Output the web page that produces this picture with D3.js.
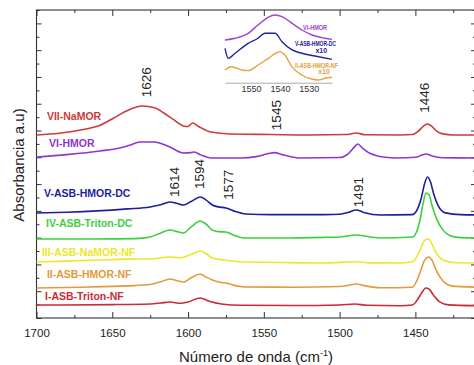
<!DOCTYPE html>
<html>
<head>
<meta charset="utf-8">
<script src="https://cdn.jsdelivr.net/npm/d3@7"></script>
<style>
  body { margin: 0; background: #fff; }
  svg text { font-family: Arial, 'Liberation Sans', sans-serif; }
</style>
</head>
<body>
<div id="container"></div>
<script>
const w = 474,
  h = 365;

// ---- data (wavenumber cm-1, absorbance a.u.) ----
const seriesNames = [
  'VII-NaMOR',
  'VI-HMOR',
  'V-ASB-HMOR-DC',
  'IV-ASB-Triton-DC',
  'III-ASB-NaMOR-NF',
  'II-ASB-HMOR-NF',
  'I-ASB-Triton-NF',
];

const specVII = [
  [1700, 13.67], [1685, 13.8], [1671, 14.04], [1658, 14.4], [1649, 14.94],
  [1640, 15.5], [1630, 15.83], [1622, 15.7], [1616, 15.31], [1610, 14.85],
  [1603, 14.34], [1600, 14.3], [1597, 14.56], [1593, 14.3], [1585, 13.89],
  [1572, 13.74], [1545, 13.7], [1520, 13.67], [1495, 13.7], [1489, 13.82],
  [1483, 13.68], [1460, 13.67], [1452, 13.7], [1448, 13.95], [1445, 14.3],
  [1442, 14.49], [1439, 14.3], [1436, 13.95], [1432, 13.75], [1425, 13.67],
  [1410, 13.67],
];

const specVI = [
  [1700, 12.02], [1680, 12.2], [1658, 12.47], [1645, 12.7], [1638, 12.92],
  [1632, 13.14], [1622, 13.14], [1616, 12.95], [1612, 12.77], [1603, 12.32],
  [1598, 12.35], [1596, 12.4], [1592, 12.2], [1585, 11.95], [1565, 11.95],
  [1555, 12.05], [1546, 12.3], [1543, 12.35], [1538, 12.2], [1530, 12.0],
  [1526, 11.95], [1500, 11.98], [1494, 12.3], [1490, 12.8], [1488, 12.99],
  [1485, 12.7], [1480, 12.3], [1477, 12.17], [1470, 12.0], [1462, 11.95],
  [1450, 12.0], [1446, 12.15], [1443, 12.25], [1439, 12.1], [1432, 11.97],
  [1410, 11.95],
];

const specV = [
  [1700, 7.84], [1680, 7.9], [1660, 8.0], [1640, 8.15], [1625, 8.29],
  [1618, 8.45], [1612, 8.66], [1607, 8.55], [1603, 8.44], [1598, 8.7],
  [1592, 9.04], [1588, 8.8], [1584, 8.44], [1580, 8.3], [1575, 8.22],
  [1570, 8.0], [1562, 7.77], [1545, 7.72], [1510, 7.72], [1500, 7.75],
  [1494, 7.9], [1489, 8.07], [1484, 7.88], [1473, 7.69], [1452, 7.72],
  [1448, 8.3], [1446, 9.0], [1444, 10.0], [1442, 10.53], [1440, 10.15],
  [1438, 9.3], [1435, 8.4], [1430, 7.85], [1420, 7.72], [1410, 7.7],
];

const specIV = [
  [1700, 5.9], [1660, 5.9], [1635, 5.93], [1625, 6.05], [1618, 6.35],
  [1612, 6.57], [1607, 6.45], [1603, 6.35], [1598, 6.8], [1592, 7.24],
  [1588, 7.0], [1584, 6.57], [1580, 6.45], [1575, 6.42], [1570, 6.2],
  [1563, 5.97], [1540, 5.97], [1510, 6.02], [1500, 6.05], [1489, 6.2],
  [1480, 6.05], [1473, 5.97], [1452, 6.05], [1449, 6.5], [1447, 7.3],
  [1445, 8.5], [1443, 9.34], [1441, 9.2], [1439, 8.4], [1436, 7.4],
  [1432, 6.6], [1427, 6.15], [1420, 6.0], [1410, 5.97],
];

const specIII = [
  [1700, 4.18], [1680, 4.25], [1660, 4.33], [1640, 4.4], [1625, 4.41],
  [1612, 4.56], [1605, 4.5], [1598, 4.75], [1592, 5.0], [1588, 4.8],
  [1584, 4.48], [1576, 4.33], [1565, 4.2], [1540, 4.15], [1510, 4.11],
  [1489, 4.2], [1480, 4.12], [1460, 4.11], [1452, 4.2], [1449, 4.6],
  [1446, 5.3], [1444, 5.8], [1441, 5.9], [1439, 5.5], [1436, 4.8],
  [1432, 4.35], [1425, 4.15], [1410, 4.11],
];

const specII = [
  [1700, 2.24], [1670, 2.3], [1640, 2.4], [1625, 2.5], [1618, 2.7],
  [1612, 2.91], [1607, 2.78], [1603, 2.69], [1598, 3.0], [1592, 3.29],
  [1588, 3.05], [1584, 2.84], [1578, 2.65], [1575, 2.61], [1568, 2.4],
  [1562, 2.32], [1530, 2.3], [1500, 2.35], [1494, 2.45], [1489, 2.54],
  [1483, 2.4], [1473, 2.26], [1452, 2.3], [1449, 2.8], [1446, 3.7],
  [1444, 4.3], [1441, 4.56], [1439, 4.3], [1436, 3.5], [1432, 2.8],
  [1426, 2.4], [1410, 2.3],
];

const specI = [
  [1700, 0.97], [1650, 1.0], [1625, 1.05], [1618, 1.12], [1612, 1.19],
  [1605, 1.1], [1600, 1.2], [1592, 1.49], [1586, 1.25], [1578, 1.05],
  [1565, 0.95], [1530, 0.93], [1500, 0.97], [1490, 1.05], [1482, 0.95],
  [1460, 0.92], [1452, 0.97], [1449, 1.3], [1446, 1.85], [1443, 2.24],
  [1441, 2.15], [1438, 1.7], [1434, 1.2], [1428, 0.98], [1410, 0.92],
];

const spectra = [specVII, specVI, specV, specIV, specIII, specII, specI];

const xTicksMajor = [1700, 1650, 1600, 1550, 1500, 1450];
const xTicksMinor = [1675, 1625, 1575, 1525, 1475, 1425];

const peakLabels = ['1626', '1545', '1446', '1614', '1594', '1577', '1491'];

// inset (x10 zoom of the 1545 band)
const insetNames = ['VI-HMOR', 'V-ASB-HMOR-DC', 'II-ASB-HMOR-NF'];
const insetVI = [
  [1559, 4.67], [1555.5, 4.86], [1551, 5.41], [1547.6, 6.33], [1544.1, 7.19],
  [1541.7, 7.44], [1539.3, 7.26], [1535.8, 6.52], [1532.4, 5.78],
  [1528.9, 5.22], [1524.4, 4.86], [1522, 4.74],
];
const insetV = [
  [1559, 3.74], [1557.9, 2.63], [1555.5, 3.19], [1551, 4.3], [1547.6, 4.86],
  [1545.2, 5.41], [1541.7, 5.41], [1539.3, 4.48], [1535.8, 3.56],
  [1532.4, 3.19], [1527.9, 2.89], [1522, 2.52],
];
const insetII = [
  [1559, 1.33], [1556.7, 1.7], [1553.2, 1.33], [1551, 1.26], [1547.5, 1.89],
  [1544, 2.63], [1541.1, 3.26], [1540, 3.37], [1538.3, 3.0], [1535.9, 1.7],
  [1532.5, 0.78], [1529, 0.33], [1526.7, 0.22], [1524.4, 0.41], [1522, 0.52],
];
const insetSpectra = [insetVI, insetV, insetII];
const insetTicks = [1550, 1540, 1530];

// ---- styles / layout ----
const colors = ['#cf3a3a', '#8e36cf', '#1e1e9e', '#3ecf3e', '#eee62a', '#e39a3c', '#cc2b35'];
const insetColors = ['#9b45d6', '#23239c', '#e8a040'];
// label anchors: [wavenumber, absorbance level]
const labelPos = [
  [1693.1, 15.09], [1691.7, 13.07], [1695, 9.34], [1693.7, 7.09],
  [1696.4, 4.93], [1693.1, 3.29], [1694.4, 1.64],
];
const peakPos = [
  [1627.5, 17.6], [1541.5, 15.15], [1444, 16.45], [1609, 10.15],
  [1592.5, 10.75], [1573.3, 9.95], [1488, 9.4],
];

const svg = d3
  .select('#container')
  .append('svg')
  .attr('width', w)
  .attr('height', h);

const x = d3.scaleLinear().domain([1700, 1410]).range([36.5, 476]);
const y = d3.scaleLinear().domain([0, 23]).range([318, 10]);

const line = d3
  .line()
  .x((d) => x(d[0]))
  .y((d) => y(d[1]))
  .curve(d3.curveMonotoneX);

// axes (ticks inward)
const axisColor = '#333';
function styleAxis(g) {
  g.select('.domain').remove();
  g.selectAll('line').attr('stroke', axisColor);
  g.selectAll('text').attr('fill', '#222').style('font-size', '11.5px');
}

svg
  .append('g')
  .attr('transform', 'translate(0,318)')
  .call(d3.axisBottom(x).tickValues(xTicksMajor).tickSize(-6).tickPadding(11).tickFormat(d3.format('d')))
  .call(styleAxis);
svg
  .append('g')
  .attr('transform', 'translate(0,318)')
  .call(d3.axisBottom(x).tickValues(xTicksMinor).tickSize(-3).tickFormat(''))
  .call(styleAxis);
svg
  .append('g')
  .attr('transform', 'translate(0,10)')
  .call(d3.axisTop(x).tickValues(xTicksMajor).tickSize(-6).tickFormat(''))
  .call(styleAxis);
svg
  .append('g')
  .attr('transform', 'translate(0,10)')
  .call(d3.axisTop(x).tickValues(xTicksMinor).tickSize(-3).tickFormat(''))
  .call(styleAxis);

const yMajor = d3.range(0, 24, 2);
const yMinor = d3.range(1, 24, 2);
[
  [d3.axisLeft, 36.5],
  [d3.axisRight, 476],
].forEach(([ax, tx]) => {
  svg
    .append('g')
    .attr('transform', 'translate(' + tx + ',0)')
    .call(ax(y).tickValues(yMajor).tickSize(-5).tickFormat(''))
    .call(styleAxis);
  svg
    .append('g')
    .attr('transform', 'translate(' + tx + ',0)')
    .call(ax(y).tickValues(yMinor).tickSize(-3).tickFormat(''))
    .call(styleAxis);
});

svg
  .append('rect')
  .attr('x', x(1700))
  .attr('y', y(23))
  .attr('width', x(1410) - x(1700))
  .attr('height', y(0) - y(23))
  .attr('fill', 'none')
  .attr('stroke', axisColor)
  .attr('stroke-width', 1.1);

// spectra
svg
  .selectAll('path.spec')
  .data(spectra)
  .enter()
  .append('path')
  .attr('class', 'spec')
  .attr('d', line)
  .attr('fill', 'none')
  .attr('stroke', (d, i) => colors[i])
  .attr('stroke-width', 1.6);

// series labels
svg
  .selectAll('text.series')
  .data(seriesNames)
  .enter()
  .append('text')
  .attr('class', 'series')
  .attr('x', (d, i) => x(labelPos[i][0]))
  .attr('y', (d, i) => y(labelPos[i][1]))
  .attr('dy', '0.35em')
  .attr('fill', (d, i) => colors[i])
  .style('font-size', '10.5px')
  .style('font-weight', 'bold')
  .text((d) => d);

// peak labels
svg
  .selectAll('text.peak')
  .data(peakLabels)
  .enter()
  .append('text')
  .attr('class', 'peak')
  .attr('transform', (d, i) => 'translate(' + x(peakPos[i][0]) + ',' + y(peakPos[i][1]) + ') rotate(-90)')
  .attr('text-anchor', 'middle')
  .attr('dy', '0.35em')
  .attr('fill', '#222')
  .style('font-size', '13.5px')
  .text((d) => d);

// axis titles
svg
  .append('text')
  .attr('transform', 'translate(19,165) rotate(-90)')
  .attr('text-anchor', 'middle')
  .attr('dy', '0.35em')
  .attr('fill', '#222')
  .style('font-size', '15px')
  .text('Absorbancia a.u)');

const xt = svg
  .append('text')
  .attr('x', 256)
  .attr('y', 362)
  .attr('text-anchor', 'middle')
  .attr('fill', '#222')
  .style('font-size', '15px');
xt.append('tspan').text('Número de onda (cm');
xt.append('tspan').attr('dy', -6).style('font-size', '9px').text('-1');
xt.append('tspan').attr('dy', 6).text(')');

// ---- inset ----
const ix = d3.scaleLinear().domain([1559, 1522]).range([225, 332]);
const iy = d3.scaleLinear().domain([0, 8]).range([82, 10]);
const iline = d3
  .line()
  .x((d) => ix(d[0]))
  .y((d) => iy(d[1]))
  .curve(d3.curveMonotoneX);

const inset = svg.append('g').attr('id', 'inset');
inset
  .append('g')
  .attr('transform', 'translate(0,82.7)')
  .call(d3.axisBottom(ix).tickValues(insetTicks).tickSize(0).tickPadding(3).tickFormat(d3.format('d')))
  .call((g) => {
    g.select('.domain').attr('stroke', '#aaa');
    g.selectAll('text').attr('fill', '#333').style('font-size', '9px');
  });

inset
  .selectAll('path.ispec')
  .data(insetSpectra)
  .enter()
  .append('path')
  .attr('class', 'ispec')
  .attr('d', iline)
  .attr('fill', 'none')
  .attr('stroke', (d, i) => insetColors[i])
  .attr('stroke-width', 1.4);

const insetLabelPos = [
  [1532.0, 6.0, 24],
  [1534.8, 4.22, 41],
  [1534.8, 1.78, 43],
];
inset
  .selectAll('text.ilabel')
  .data(insetNames)
  .enter()
  .append('text')
  .attr('class', 'ilabel')
  .attr('x', (d, i) => ix(insetLabelPos[i][0]))
  .attr('y', (d, i) => iy(insetLabelPos[i][1]))
  .attr('dy', '0.35em')
  .attr('textLength', (d, i) => insetLabelPos[i][2])
  .attr('lengthAdjust', 'spacingAndGlyphs')
  .attr('fill', (d, i) => insetColors[i])
  .style('font-size', '7px')
  .style('font-weight', 'bold')
  .text((d) => d);

[
  [1523.7, 3.44, 1],
  [1522.7, 1.11, 2],
].forEach(([wn, lv, ci]) => {
  inset
    .append('text')
    .attr('x', ix(wn))
    .attr('y', iy(lv))
    .attr('dy', '0.35em')
    .attr('text-anchor', 'end')
    .attr('fill', insetColors[ci])
    .style('font-size', '7px')
    .style('font-weight', 'bold')
    .text('x10');
});
</script>
</body>
</html>
